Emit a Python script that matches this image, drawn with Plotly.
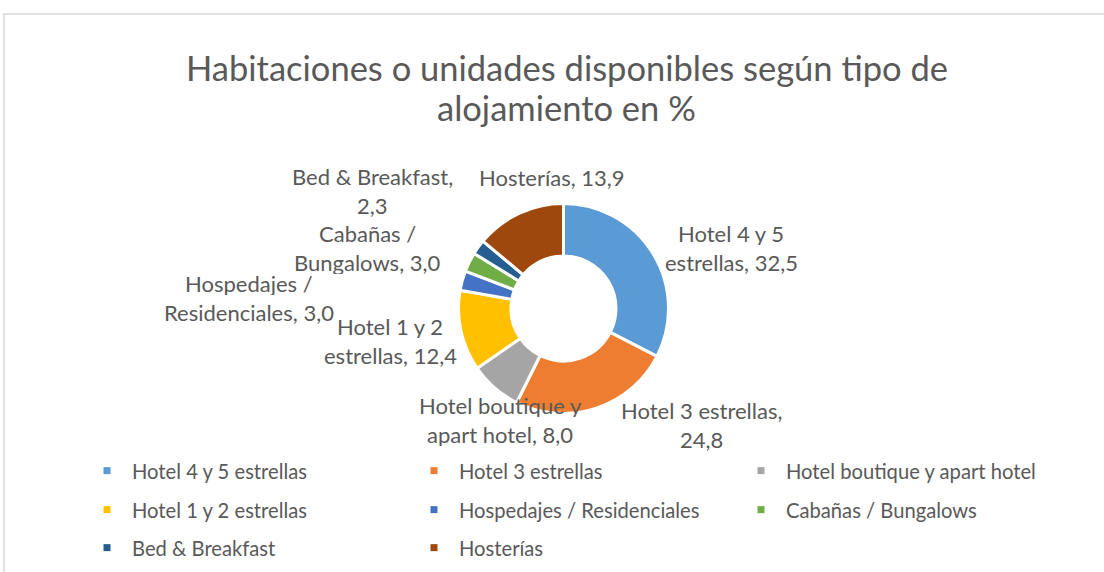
import plotly.graph_objects as go

W, H = 1104, 572

categories = ["Hotel 4 y 5 estrellas", "Hotel 3 estrellas", "Hotel boutique y apart hotel",
              "Hotel 1 y 2 estrellas", "Hospedajes / Residenciales", "Cabañas / Bungalows",
              "Bed & Breakfast", "Hosterías"]
values = [32.5, 24.8, 8.0, 12.4, 3.0, 3.0, 2.3, 13.9]
colors = ["#5B9BD5", "#ED7D31", "#A5A5A5", "#FFC000", "#4472C4", "#70AD47", "#255E91", "#9E480E"]

title_lines = ["Habitaciones o unidades disponibles según tipo de", "alojamiento en %"]
title_y = [68, 108]

# words on first line of each data label (wrapping as in reference)
label_break = [4, 3, 3, 4, 2, 2, 3, 2]
# label positions in pixels (center x, first-line center y)
label_x = [731, 701, 500, 390, 249, 367, 372, 552]
label_y = [233, 410, 405, 326, 283, 233, 176, 177]
line_gap = 29

# legend rows (indices into categories)
legend_rows = [[0, 1, 2], [3, 4, 5], [6, 7]]
legend_row_y = [471, 510, 548]

TXT = "#595959"
FONT = "Lato"

def fmt(v):
    return f"{v:.1f}".replace(".", ",")

fig = go.Figure()

cx, cy, R = 563.5, 308.5, 105
fig.add_trace(go.Pie(
    labels=categories, values=values, sort=False, direction="clockwise", rotation=0,
    hole=0.5, textinfo="none", hoverinfo="label+value",
    marker=dict(colors=colors, line=dict(color="white", width=3)),
    domain=dict(x=[(cx - R) / W, (cx + R) / W], y=[1 - (cy + R) / H, 1 - (cy - R) / H]),
    showlegend=False,
))

legend_names = ["legend", "legend2", "legend3"]
for r, row in enumerate(legend_rows):
    for i in row:
        fig.add_trace(go.Scatter(
            x=[None], y=[None], mode="markers", name=categories[i],
            marker=dict(symbol="square", size=7, color=colors[i]),
            legend=legend_names[r], showlegend=True,
        ))

annotations = []
for k, line in enumerate(title_lines):
    annotations.append(dict(
        x=566.5 / W, y=1 - title_y[k] / H, xref="paper", yref="paper", text=line,
        showarrow=False, xanchor="center", yanchor="middle",
        font=dict(family=FONT, size=34.5, color=TXT),
    ))
for i, (cat, v) in enumerate(zip(categories, values)):
    words = f"{cat}, {fmt(v)}".split(" ")
    lines = [" ".join(words[:label_break[i]]), " ".join(words[label_break[i]:])]
    lines = [l for l in lines if l]
    for k, line in enumerate(lines):
        annotations.append(dict(
            x=label_x[i] / W, y=1 - (label_y[i] + k * line_gap) / H,
            xref="paper", yref="paper", text=line, showarrow=False,
            xanchor="center", yanchor="middle", height=24, valign="middle",
            font=dict(family=FONT, size=22, color=TXT),
        ))

legend_common = dict(orientation="h", entrywidth=272, entrywidthmode="pixels", itemwidth=40,
                     xanchor="left", yanchor="middle", bgcolor="rgba(0,0,0,0)",
                     font=dict(family=FONT, size=20.2, color=TXT))
layout_legends = {}
for r, name in enumerate(legend_names):
    layout_legends[name] = dict(legend_common, x=82 / W, y=1 - legend_row_y[r] / H)

fig.update_layout(
    width=W, height=H,
    margin=dict(l=0, r=0, t=0, b=0),
    paper_bgcolor="white", plot_bgcolor="white",
    separators=",.",
    xaxis=dict(visible=False), yaxis=dict(visible=False),
    annotations=annotations,
    shapes=[
        dict(type="line", xref="paper", yref="paper", x0=3 / W, x1=1, y0=1 - 14 / H, y1=1 - 14 / H,
             line=dict(color="#D9D9D9", width=1.5)),
        dict(type="line", xref="paper", yref="paper", x0=4 / W, x1=4 / W, y0=0, y1=1 - 14 / H,
             line=dict(color="#D9D9D9", width=1.5)),
    ],
    **layout_legends,
)

fig.write_html("out.html", config={"displayModeBar": False},
               post_script="document.body.style.margin='0';")
